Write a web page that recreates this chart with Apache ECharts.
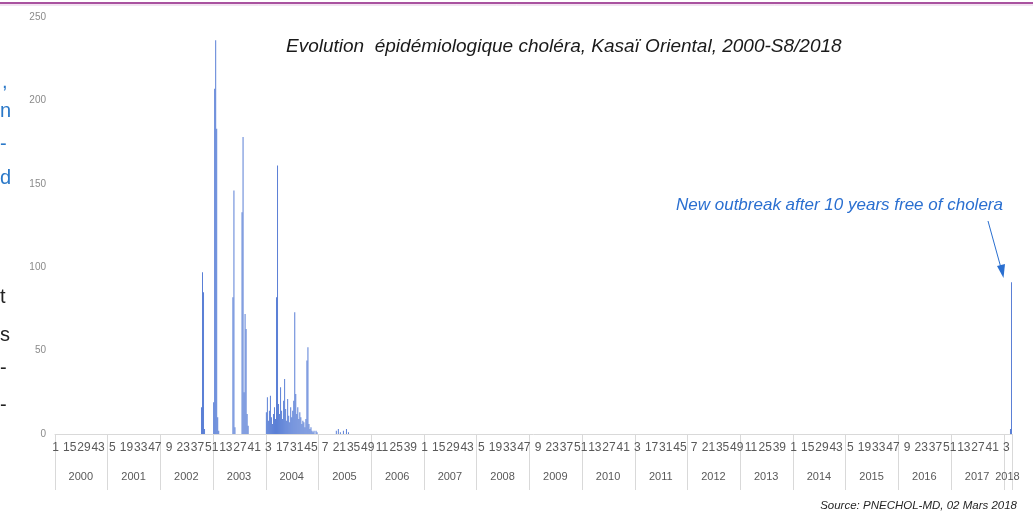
<!DOCTYPE html>
<html>
<head>
<meta charset="utf-8">
<script src="https://cdn.jsdelivr.net/npm/echarts@6/dist/echarts.min.js"></script>
<style>
  html, body { margin: 0; padding: 0; background: #ffffff; }
  #chart { width: 1033px; height: 520px; }
</style>
</head>
<body>
<div id="chart"></div>
<script>
// ---- Data (weekly cholera cases, epidemiological weeks) ----
const years = ['2000','2001','2002','2003','2004','2005','2006','2007','2008','2009',
               '2010','2011','2012','2013','2014','2015','2016','2017','2018'];
const weeksPerYear = [52,52,52,52,52,52,52,52,52,52,52,52,52,52,52,52,52,52,8];

// Years with reported cases (weeks 1..52); every other year reported 0 cases each week
const cases2002 = [0,0,0,0,0,0,0,0,0,0, 0,0,0,0,0,0,0,0,0,0,
                   0,0,0,0,0,0,0,0,0,0, 0,0,0,0,0,0,0,0,0,0,
                   16,97,85,3,0,0,0,0,0,0, 0,0];
const cases2003 = [19,207,236,183,10,2,0,0,0,0, 0,0,0,0,0,0,0,0,0,82,
                   146,4,0,0,0,0,0,0,133,178, 25,72,63,12,5,0,0,0,0,0,
                   0,0,0,0,0,0,0,0,0,0, 0,0];
const cases2004 = [13,22,8,14,23,10,6,12,16,9, 82,161,18,12,28,14,9,20,33,15,
                   8,21,11,7,16,10,14,20,73,24, 12,16,9,13,10,6,8,7,4,9,
                   44,52,6,3,4,2,1,2,0,2, 1,0];
const cases2005 = [0,0,0,0,0,0,0,0,0,0, 0,0,0,0,0,0,0,2,0,3,
                   0,1,0,0,2,0,0,3,0,1, 0,0,0,0,0,0,0,0,0,0,
                   0,0,0,0,0,0,0,0,0,0, 0,0];
const cases2018 = [0,0,0,0,0,0,3,91];

const casesByYear = { '2002': cases2002, '2003': cases2003, '2004': cases2004,
                      '2005': cases2005, '2018': cases2018 };

// ---- Build category table ----
const weekLabels = [];
const weeklyCases = [];
const yearIndexOf = [];
years.forEach((yr, yi) => {
  const vals = casesByYear[yr] || [];
  for (let w = 1; w <= weeksPerYear[yi]; w++) {
    weekLabels.push(String(w));
    weeklyCases.push(vals[w - 1] || 0);
    yearIndexOf.push(yi);
  }
});
const yearMidIndex = new Set();
{
  let start = 0;
  years.forEach((yr, yi) => {
    yearMidIndex.add(start + Math.floor((weeksPerYear[yi] - 1) / 2));
    start += weeksPerYear[yi];
  });
}

const chart = echarts.init(document.getElementById('chart'), null, { renderer: 'canvas' });
const FONT = "'Liberation Sans', Arial, sans-serif";

chart.setOption({
  animation: false,
  backgroundColor: '#ffffff',
  grid: { left: 55, right: 21, top: 17, bottom: 86, containLabel: false },
  xAxis: [
    {
      type: 'category',
      data: weekLabels,
      position: 'bottom',
      boundaryGap: true,
      axisLine: { show: true, lineStyle: { color: '#d9d9d9', width: 1 } },
      axisTick: {
        show: true,
        interval: (i) => weekLabels[i] === '1',
        length: 56,
        lineStyle: { color: '#d9d9d9', width: 1 }
      },
      axisLabel: { interval: 13, fontSize: 12, color: '#595959', margin: 8, fontFamily: FONT }
    },
    {
      type: 'category',
      data: weekLabels,
      position: 'bottom',
      offset: 29,
      axisLine: { show: false },
      axisTick: { show: false },
      axisLabel: {
        interval: (i) => yearMidIndex.has(i),
        formatter: (v, i) => years[yearIndexOf[i]],
        fontSize: 11, color: '#595959', margin: 8, fontFamily: FONT
      }
    }
  ],
  yAxis: {
    type: 'value',
    min: 0, max: 250, interval: 50,
    splitLine: { show: false },
    axisLine: { show: false },
    axisTick: { show: false },
    axisLabel: { fontSize: 10, color: '#8a8a8a', margin: 9, fontFamily: FONT }
  },
  series: [{
    type: 'bar',
    xAxisIndex: 0,
    data: weeklyCases,
    barCategoryGap: '25%',
    itemStyle: { color: '#5a7fd6' }
  }],
  graphic: [
    { type: 'line', shape: { x1: 0, y1: 3, x2: 1033, y2: 3 }, style: { stroke: '#a9529f', lineWidth: 2 } },
    { type: 'line', shape: { x1: 0, y1: 5, x2: 1033, y2: 5 }, style: { stroke: '#e6c8e3', lineWidth: 1 } },
    { type: 'text', left: 286, top: 37, style: {
        text: 'Evolution  épidémiologique choléra, Kasaï Oriental, 2000-S8/2018',
        font: 'italic 19px ' + FONT, fill: '#1a1a1a' } },
    { type: 'text', left: 676, top: 197, style: {
        text: 'New outbreak after 10 years free of cholera',
        font: 'italic 17px ' + FONT, fill: '#2a6fd0' } },
    { type: 'line', shape: { x1: 988, y1: 221, x2: 1001, y2: 268 }, style: { stroke: '#2a6fd0', lineWidth: 1 } },
    { type: 'polygon', shape: { points: [[1003.5, 278], [997, 266], [1005, 264]] }, style: { fill: '#2a6fd0' } },
    { type: 'text', right: 16, top: 500, style: {
        text: 'Source: PNECHOL-MD, 02 Mars 2018',
        font: 'italic 11.5px ' + FONT, fill: '#262626' } },
    // cut-off text from neighbouring slide box at the left edge
    { type: 'text', left: 2, top: 72, style: { text: ',', font: '20px ' + FONT, fill: '#2a78c8' } },
    { type: 'text', left: 0, top: 101, style: { text: 'n', font: '20px ' + FONT, fill: '#2a78c8' } },
    { type: 'text', left: 0, top: 134, style: { text: '-', font: '20px ' + FONT, fill: '#2a78c8' } },
    { type: 'text', left: 0, top: 168, style: { text: 'd', font: '20px ' + FONT, fill: '#2a78c8' } },
    { type: 'text', left: 0, top: 287, style: { text: 't', font: '20px ' + FONT, fill: '#222222' } },
    { type: 'text', left: 0, top: 325, style: { text: 's', font: '20px ' + FONT, fill: '#222222' } },
    { type: 'text', left: 0, top: 358, style: { text: '-', font: '20px ' + FONT, fill: '#222222' } },
    { type: 'text', left: 0, top: 395, style: { text: '-', font: '20px ' + FONT, fill: '#222222' } }
  ]
});
</script>
</body>
</html>
